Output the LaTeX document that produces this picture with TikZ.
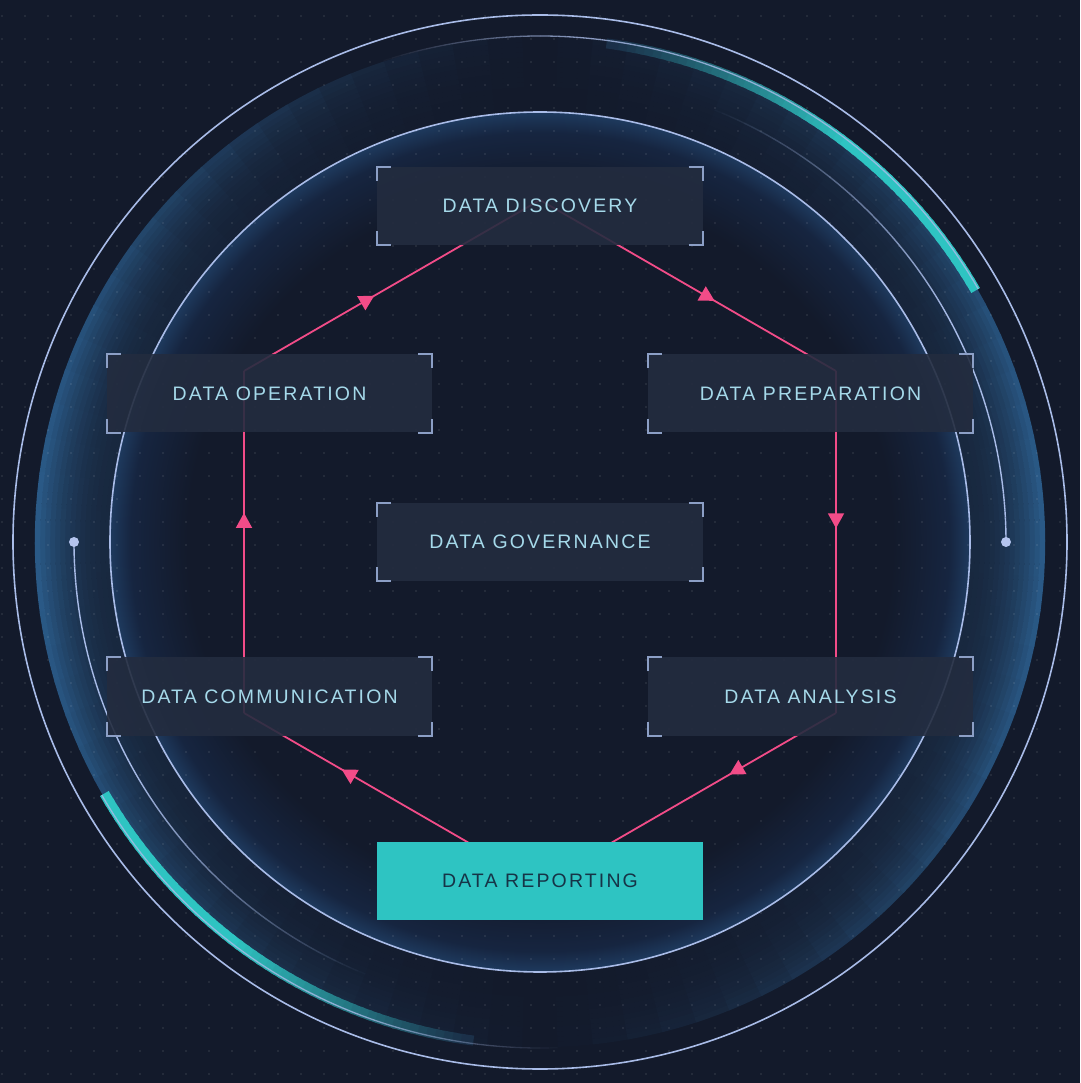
\documentclass[tikz,border=0pt]{standalone}
\usepackage{fontspec}
\usetikzlibrary{arrows.meta,decorations.markings}
\newfontfamily\boxfont{Liberation Sans}[LetterSpace=11]
\definecolor{bgc}{HTML}{131A2B}
\definecolor{linec}{HTML}{A9BCE8}
\definecolor{tealc}{HTML}{2EC4C2}
\definecolor{pinkc}{HTML}{F24C88}
\definecolor{boxc}{HTML}{232C3F}
\definecolor{brkc}{HTML}{8C9FC6}
\definecolor{txtc}{HTML}{A5D9EA}
\definecolor{reptxt}{HTML}{163447}
\definecolor{g4}{HTML}{2B5D8C}
\definecolor{i1}{HTML}{162540}
\definecolor{i2}{HTML}{1E3A5E}
\definecolor{fadec}{HTML}{1A2B45}
\definecolor{enddot}{HTML}{B4C4EE}
\pgfdeclareradialshading{innerglow}{\pgfpoint{0bp}{0bp}}{color(0bp)=(bgc); color(20.5bp)=(bgc); color(23.8bp)=(i1); color(25bp)=(i2); color(50bp)=(i2)}
\newcommand\boxcorners[1]{%
  \draw[brk] ([yshift=-14pt]#1.north west) -- (#1.north west) -- ([xshift=14pt]#1.north west);
  \draw[brk] ([xshift=-14pt]#1.north east) -- (#1.north east) -- ([yshift=-14pt]#1.north east);
  \draw[brk] ([yshift=14pt]#1.south west) -- (#1.south west) -- ([xshift=14pt]#1.south west);
  \draw[brk] ([xshift=-14pt]#1.south east) -- (#1.south east) -- ([yshift=14pt]#1.south east);}
\tikzset{
  ringline/.style={draw=linec, line width=1.6pt},
  brk/.style={draw=brkc, line width=2pt},
  flow/.style={draw=pinkc, line width=1.8pt, postaction={decorate},
    decoration={markings, mark=at position #1 with {\arrow[pinkc]{Triangle[length=15pt,width=16pt]}}}},
  stepbox/.style={minimum width=325pt, minimum height=78pt, inner sep=0pt, fill=boxc, fill opacity=0.9,
    text opacity=1, text=txtc, font=\boxfont\fontsize{19.5}{24}\selectfont},
  repbox/.style={minimum width=325pt, minimum height=78pt, inner sep=0pt, fill=tealc,
    text=reptxt, font=\boxfont\fontsize{19.5}{24}\selectfont}
}
\begin{document}
\begin{tikzpicture}[x=1pt,y=1pt]
\useasboundingbox (-540,-541) rectangle (540,542);
\fill[bgc] (-540,-541) rectangle (540,542);
% inner glow
\shade[shading=innerglow] (0,0) circle (430);
% outer band glow: brighter at the sides, dark at top and bottom
\foreach \r in {432.5,437.5,...,502.5}{
  \pgfmathsetmacro\kk{0.22+0.78*((\r-430)/75)^2}
  \foreach \t in {0,4,...,356}{
    \pgfmathsetmacro\cc{abs(cos(\t+2))}
    \pgfmathtruncatemacro\pp{100*\kk*\cc*(0.4+0.6*\cc)}
    \draw[line width=5.4pt, draw=g4!\pp!bgc] (\t:\r) arc[start angle=\t, end angle=\t+4.3, radius=\r];
  }
}
% dot grid
\foreach \i in {0,...,46}{
  \fill[white, opacity=0.1] \foreach \j in {0,...,46}{ (\i*23-538, 526-\j*23) circle (1.2) };
}
% full circles
\draw[ringline] (0,0) circle (527);
\draw[ringline] (0,0) circle (430);
% r=466 arcs with end dots
\foreach \a in {0,...,67}{
  \pgfmathsetmacro\op{min(1,(68-\a)/40)}
  \draw[ringline, line width=1.4pt, draw opacity=\op] (\a:466) arc[start angle=\a, end angle=\a+1, radius=466];
}
\foreach \a in {180,...,247}{
  \pgfmathsetmacro\op{min(1,(248-\a)/40)}
  \draw[ringline, line width=1.4pt, draw opacity=\op] (\a:466) arc[start angle=\a, end angle=\a+1, radius=466];
}
\fill[enddot] (466,0) circle (5);
\fill[enddot] (-466,0) circle (5);
% teal arcs
\foreach \a in {30,...,81}{
  \pgfmathtruncatemacro\pp{100*min(1,max(0,(82-\a)/30))}
  \draw[line width=10pt, draw=tealc!\pp!fadec] (\a:503) arc[start angle=\a, end angle=\a+1.4, radius=503];
}
\foreach \a in {210,...,261}{
  \pgfmathtruncatemacro\pp{100*min(1,max(0,(262-\a)/30))}
  \draw[line width=10pt, draw=tealc!\pp!fadec] (\a:503) arc[start angle=\a, end angle=\a+1.4, radius=503];
}
% thin r=506 lines
\foreach \a in {30,...,107}{
  \pgfmathsetmacro\op{0.8*min(1,max(0,(108-\a)/23))}
  \draw[draw=linec, line width=1.3pt, draw opacity=\op] (\a:506) arc[start angle=\a, end angle=\a+1, radius=506];
}
\foreach \a in {210,...,271}{
  \pgfmathsetmacro\op{0.8*min(1,max(0,(272-\a)/24))}
  \draw[draw=linec, line width=1.3pt, draw opacity=\op] (\a:506) arc[start angle=\a, end angle=\a+1, radius=506];
}
% hexagon connectors
\coordinate (vT) at (0,342);
\coordinate (vUR) at (296,171);
\coordinate (vLR) at (296,-171);
\coordinate (vB) at (0,-342);
\coordinate (vLL) at (-296,-171);
\coordinate (vUL) at (-296,171);
\draw[flow=0.59] (vT) -- (vUR);
\draw[flow=0.46] (vUR) -- (vLR);
\draw[flow=0.36] (vLR) -- (vB);
\draw[flow=0.67] (vB) -- (vLL);
\draw[flow=0.585] (vLL) -- (vUL);
\draw[flow=0.44] (vUL) -- (vT);
% boxes
\node[stepbox] (disc) at (0,336) {DATA DISCOVERY};
\node[stepbox] (oper) at (-270.5,148.5) {DATA OPERATION};
\node[stepbox] (prep) at (270.5,148.5) {DATA PREPARATION};
\node[stepbox] (gov) at (0,0) {DATA GOVERNANCE};
\node[stepbox] (comm) at (-270.5,-154.5) {DATA COMMUNICATION};
\node[stepbox] (anal) at (270.5,-154.5) {DATA ANALYSIS};
\node[repbox] (rep) at (0,-339) {DATA REPORTING};
\boxcorners{disc}
\boxcorners{oper}
\boxcorners{prep}
\boxcorners{gov}
\boxcorners{comm}
\boxcorners{anal}
\end{tikzpicture}
\end{document}
